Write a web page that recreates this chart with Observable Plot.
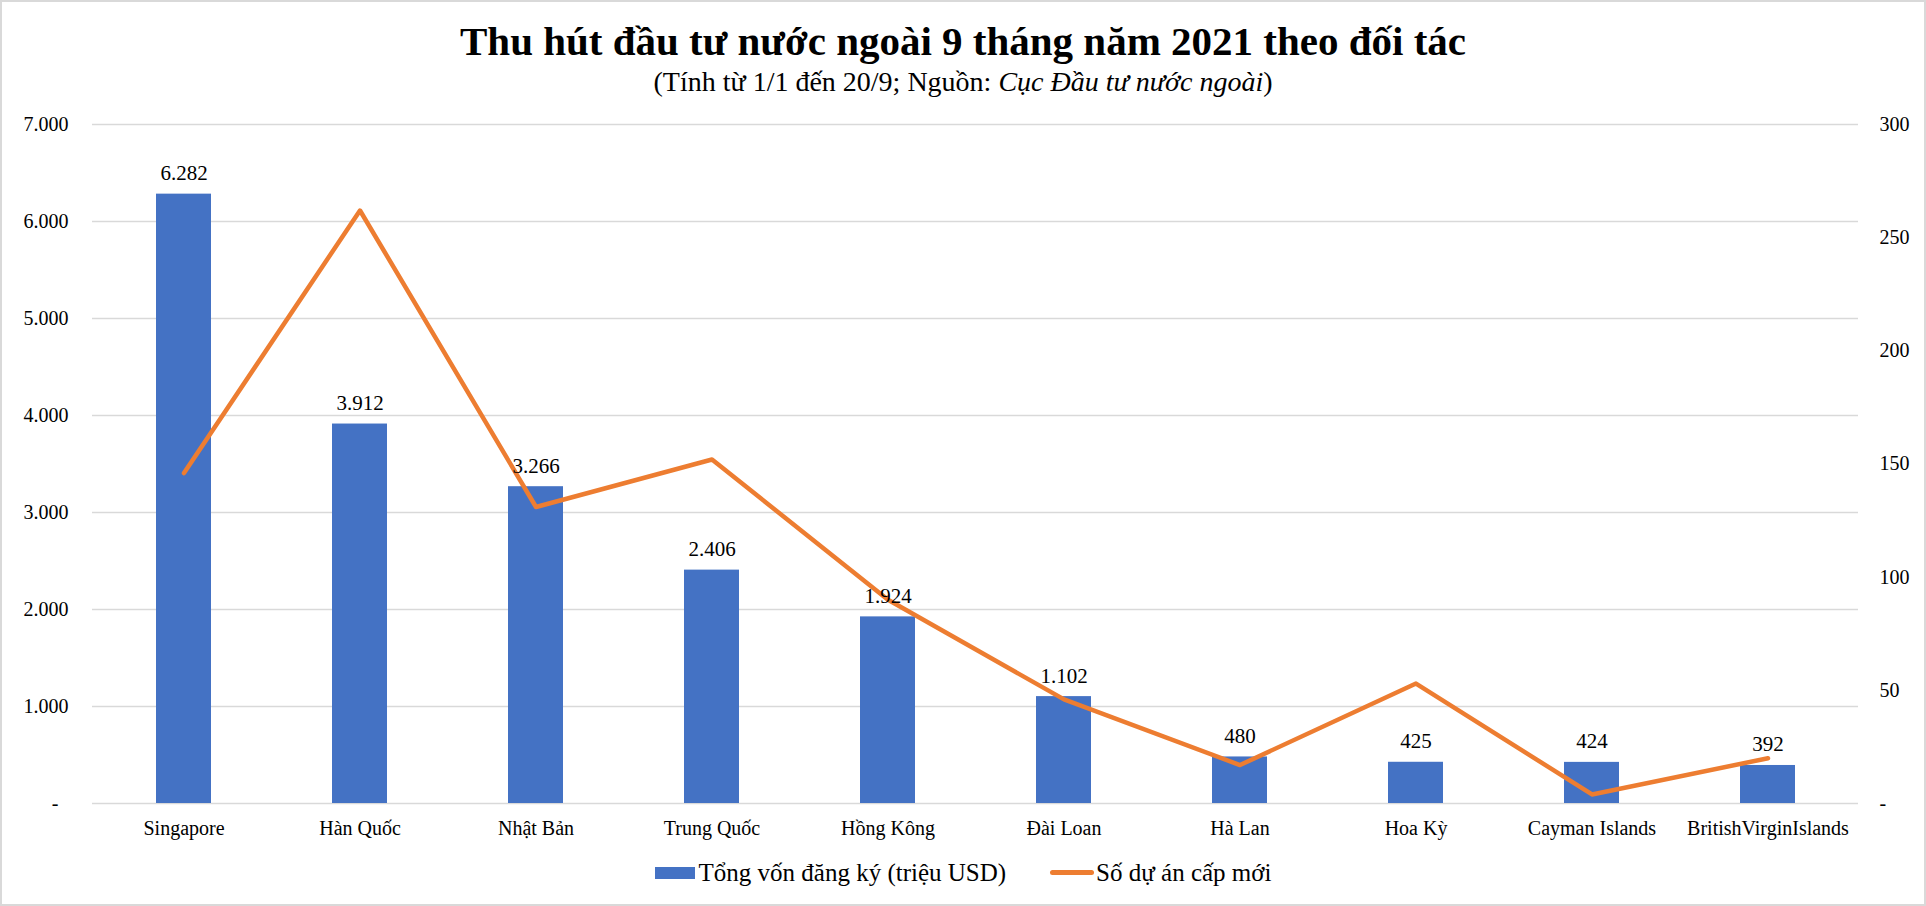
<!DOCTYPE html>
<html>
<head>
<meta charset="utf-8">
<script src="https://cdn.jsdelivr.net/npm/d3@7"></script>
<script src="https://cdn.jsdelivr.net/npm/@observablehq/plot@0.6"></script>
<style>
  html, body { margin: 0; padding: 0; background: #fff; }
  #page { position: relative; width: 1926px; height: 906px; overflow: hidden; background: #fff;
          font-family: "Liberation Serif", "Times New Roman", serif; color: #000; }
  #frame { position: absolute; left: 0; top: 0; width: 1926px; height: 906px; box-sizing: border-box;
           border: 2px solid #d9d9d9; pointer-events: none; }
  .title { position: absolute; left: 0; width: 1926px; text-align: center; line-height: 1; white-space: nowrap; }
  #t1 { top: 21px; font-size: 41px; font-weight: bold; }
  #t2 { top: 68px; font-size: 28px; }
  #chart { position: absolute; left: 0; top: 100px; }
  #legend { position: absolute; left: 0; top: 860px; width: 1926px; display: flex; justify-content: center;
            align-items: center; font-size: 25px; line-height: 1; white-space: nowrap; }
  .sw-bar { display: inline-block; width: 40px; height: 12px; background: #4472C4; margin-right: 4px; }
  .sw-line { display: inline-block; width: 44px; height: 5px; border-radius: 3px; background: #ED7D31; margin-left: 44px; margin-right: 2px; }
</style>
</head>
<body>
<div id="page">
  <div id="t1" class="title">Thu hút đầu tư nước ngoài 9 tháng năm 2021 theo đối tác</div>
  <div id="t2" class="title">(Tính từ 1/1 đến 20/9; Nguồn: <i>Cục Đầu tư nước ngoài</i>)</div>
  <div id="chart"></div>
  <div id="legend">
    <span class="sw-bar"></span><span>Tổng vốn đăng ký (triệu USD)</span>
    <span class="sw-line"></span><span>Số dự án cấp mới</span>
  </div>
  <div id="frame"></div>
</div>
<script>
const categories = ["Singapore", "Hàn Quốc", "Nhật Bản", "Trung Quốc", "Hồng Kông", "Đài Loan", "Hà Lan", "Hoa Kỳ", "Cayman Islands", "BritishVirginIslands"];
const capital = [6282, 3912, 3266, 2406, 1924, 1102, 480, 425, 424, 392];
const projects = [146, 262, 131, 152, 90, 46, 17, 53, 4, 20];
const leftTicks = [0, 1000, 2000, 3000, 4000, 5000, 6000, 7000];
const rightTicks = [0, 50, 100, 150, 200, 250, 300];

const leftMax = 7000, rightMax = 300;
const k = leftMax / rightMax;
const rows = categories.map((c, i) => ({cat: c, capital: capital[i], projects: projects[i]}));
const fmtVN = v => d3.format(",")(v).replace(/,/g, ".");

const chart = Plot.plot({
  width: 1926,
  height: 750,
  marginTop: 24,
  marginBottom: 47,
  marginLeft: 92,
  marginRight: 68,
  style: {fontFamily: "'Liberation Serif', 'Times New Roman', serif", fontSize: "20px", color: "#000", background: "transparent", overflow: "visible"},
  x: {domain: categories, paddingInner: 0.689, paddingOuter: 0.3445},
  y: {domain: [0, leftMax]},
  marks: [
    Plot.ruleY(leftTicks, {stroke: "#d9d9d9", strokeWidth: 1.5}),
    Plot.barY(rows, {x: "cat", y: "capital", fill: "#4472C4"}),
    Plot.line(rows, {x: "cat", y: d => d.projects * k, stroke: "#ED7D31", strokeWidth: 4.5, strokeLinecap: "round", strokeLinejoin: "round"}),
    Plot.text(rows, {x: "cat", y: "capital", text: d => fmtVN(d.capital), lineAnchor: "bottom", dy: -14, fontSize: 21, fill: "#000"}),
    Plot.axisX({tickSize: 0, tickPadding: 17, label: null, fontSize: 20, fill: "#000"}),
    Plot.axisY({ticks: leftTicks, anchor: "left", tickSize: 0, tickPadding: 24, label: null, fontSize: 20, fill: "#000",
                tickFormat: d => d === 0 ? "-\u2002" : fmtVN(d)}),
    Plot.axisY({ticks: rightTicks.map(v => v * k), anchor: "right", tickSize: 0, tickPadding: 21, label: null, fontSize: 20, fill: "#000",
                tickFormat: d => { const v = Math.round(d / k); return v === 0 ? "-" : fmtVN(v); }})
  ]
});
document.getElementById("chart").appendChild(chart);
</script>
</body>
</html>
